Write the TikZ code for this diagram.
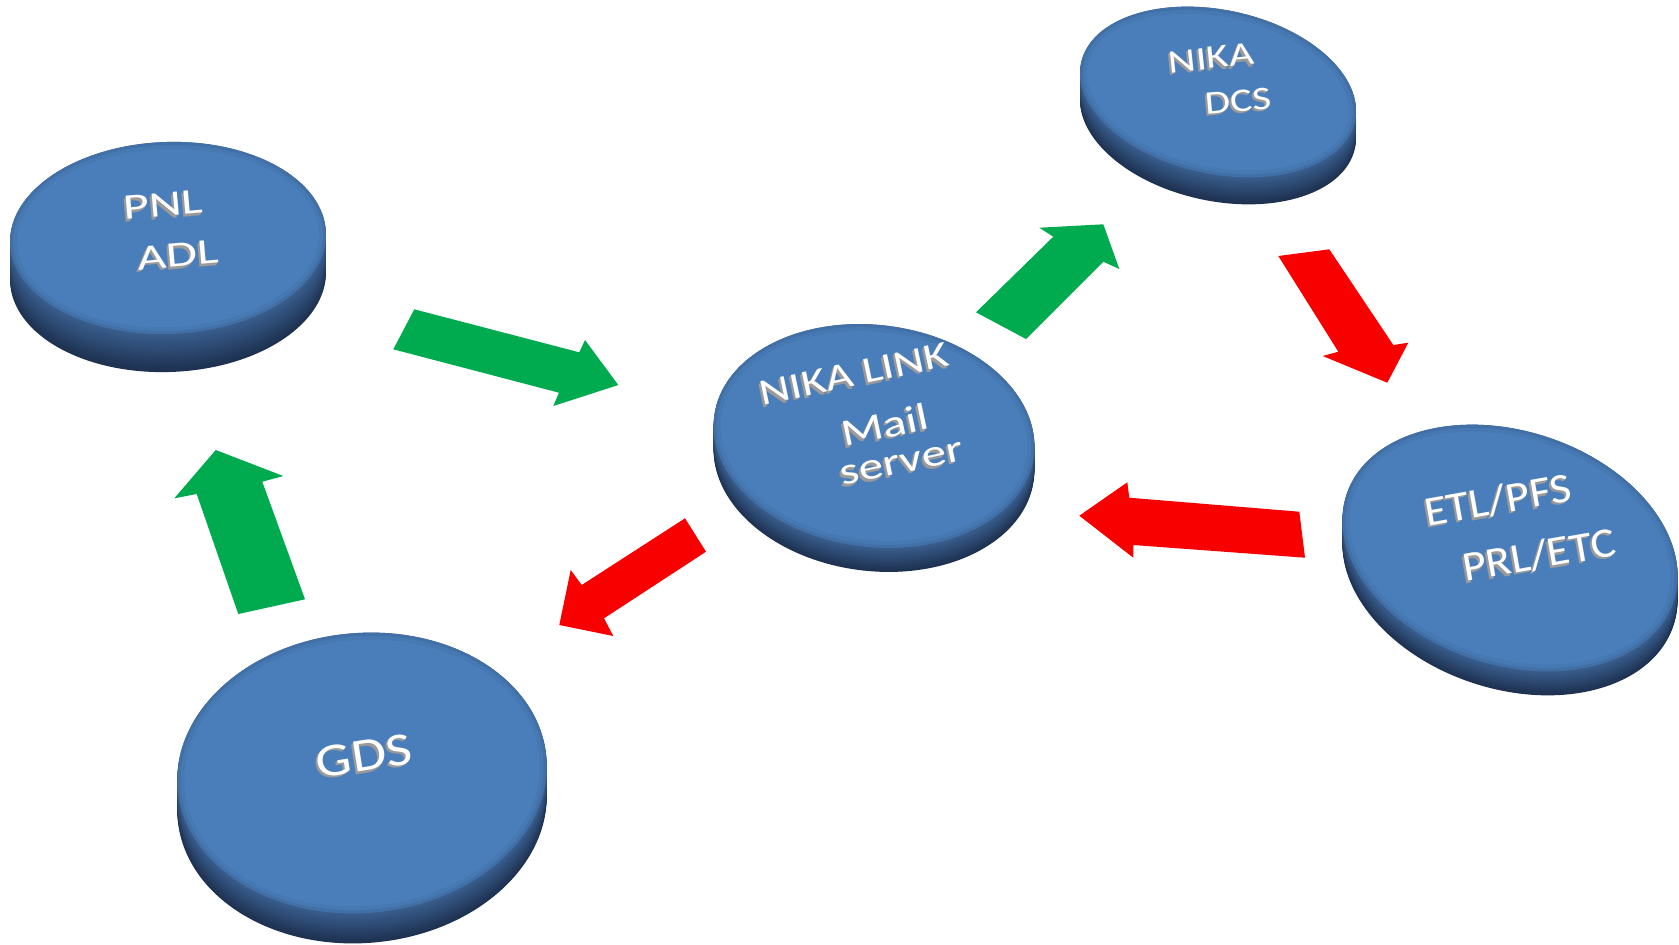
\documentclass[tikz,border=0pt]{standalone}
\usepackage{fontspec}
\setmainfont{Carlito}
\usepackage{graphicx}
\definecolor{topface}{HTML}{4A7EBB}
\definecolor{topedge}{HTML}{416FA6}
\definecolor{sidetop}{HTML}{395F8F}
\definecolor{sidebot}{HTML}{1E3150}
\definecolor{agreen}{HTML}{00AA4F}
\definecolor{ared}{HTML}{F80000}
\definecolor{shadowgray}{HTML}{9A9A9A}
\tikzset{
  greenarrow/.style={fill=agreen},
  redarrow/.style={fill=ared},
  lbl/.style={text=white, inner sep=0pt},
  lblshadow/.style={text=shadowgray, inner sep=0pt},
}
% #1 name, #2 cx, #3 cy, #4 x radius, #5 y radius, #6 rotation, #7 thickness
\newcommand\mydisk[7]{%
  \foreach \i in {0,...,24}{%
    \pgfmathsetmacro\off{#7*(1-\i/24)}%
    \pgfmathtruncatemacro\mix{100*\i/24}%
    \fill[sidetop!\mix!sidebot, rotate around={#6:(#2,#3+\off)}] (#2,#3+\off) ellipse [x radius=#4, y radius=#5];
  }
  \fill[topedge, rotate around={#6:(#2,#3)}] (#2,#3) ellipse [x radius=#4, y radius=#5];
  \fill[topface!60!topedge, rotate around={#6:(#2,#3)}] (#2,#3) ellipse [x radius=#4-3, y radius=#5-3];
  \fill[topface, rotate around={#6:(#2,#3)}] (#2,#3) ellipse [x radius=#4-7, y radius=#5-7];
  \coordinate (#1) at (#2,#3);
}
% #1 name, #2 x, #3 y, #4 rotation, #5 font size, #6 xscale, #7 text
\newcommand\disklabel[7]{%
  \foreach \d in {2.5,1.2}{%
    \node[lblshadow, rotate=#4, font=\fontsize{#5}{#5}\selectfont] at (#2-\d*0.8,#3+\d) {\scalebox{#6}[1]{#7}};
  }
  \node[lbl, rotate=#4, font=\fontsize{#5}{#5}\selectfont] (#1) at (#2,#3) {\scalebox{#6}[1]{#7}};
}
\begin{document}
\begin{tikzpicture}[x=0.5pt, y=-0.5pt]
\useasboundingbox[fill=white] (0,0) rectangle (1679,944);

% disks
\mydisk{pnl}{168}{238}{158}{96}{2}{38}
\mydisk{link}{874}{436}{161}{111}{-7}{24}
\mydisk{dcs}{1218}{92}{140}{82}{-12}{27}
\mydisk{etl}{1510}{548}{172}{117}{-18}{24}
\mydisk{gds}{362}{773}{185}{140}{5}{30}

% labels
\disklabel{tpnl}{163}{205}{5}{18}{1.4}{PNL}
\disklabel{tadl}{178}{255}{5}{18}{1.4}{ADL}
\disklabel{tlink}{854}{374}{12}{18.5}{1.28}{NIKA LINK}
\disklabel{tmail}{885}{425}{12}{19}{1.3}{Mail}
\disklabel{tserver}{902}{464}{12}{19}{1.3}{server}
\disklabel{tnika}{1211}{58}{6}{16.5}{1.3}{NIKA}
\disklabel{tdcs}{1238}{101}{5}{16.5}{1.25}{DCS}
\disklabel{tetl}{1498}{500}{10}{21}{1.1}{ETL/PFS}
\disklabel{tprl}{1539}{555}{10}{21}{1.1}{PRL/ETC}
\disklabel{tgds}{364}{756}{9}{23.5}{1.2}{GDS}

% arrows
\fill[greenarrow] (414.3,309.3) -- (579.3,352.3) -- (585,340) -- (618.3,385) -- (553.3,406) -- (559,392.7) -- (393.3,349.3) -- cycle;
\fill[greenarrow] (976,312.3) -- (1026,339) -- (1103.3,261.7) -- (1119.3,269) -- (1103.3,224.3) -- (1039.3,227.7) -- (1053.3,236.7) -- cycle;
\fill[redarrow] (1278.3,256) -- (1329.3,249.3) -- (1393.3,345) -- (1408.3,342.7) -- (1387.3,382.7) -- (1322.7,356) -- (1338.3,351.7) -- cycle;
\fill[redarrow] (1299.3,511.7) -- (1305,557.7) -- (1133.3,545) -- (1133.3,557.7) -- (1079.3,515.7) -- (1127.3,482.3) -- (1129.3,497.7) -- cycle;
\fill[redarrow] (685,518.3) -- (706,551.7) -- (604,618.3) -- (613.3,636) -- (559.3,625) -- (570.7,570) -- (581.7,585) -- cycle;
\fill[greenarrow] (238.3,614) -- (305,599.3) -- (262.3,481.7) -- (283.3,476) -- (215.7,450) -- (174.3,498.3) -- (196.7,494) -- cycle;
\end{tikzpicture}
\end{document}
